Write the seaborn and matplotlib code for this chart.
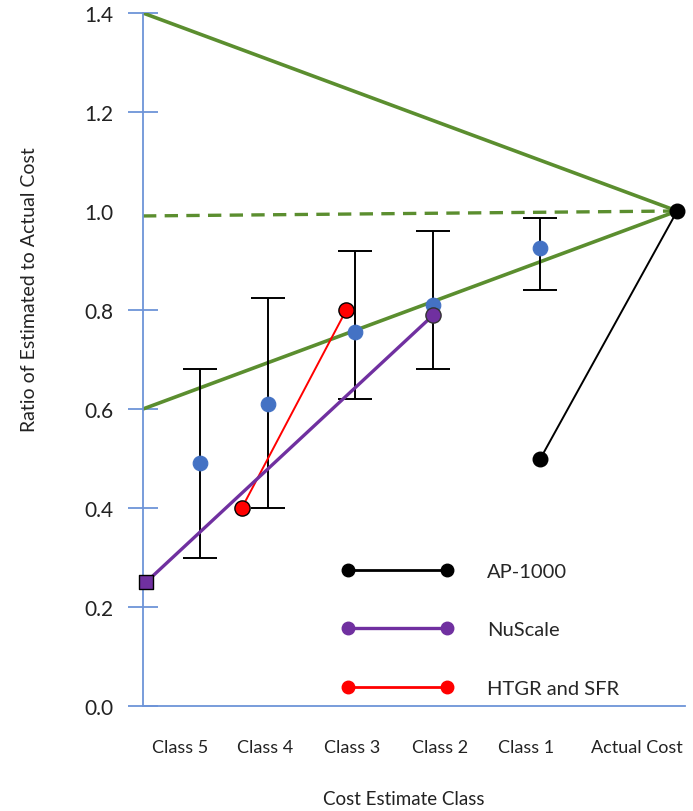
import matplotlib
matplotlib.use("Agg")
import matplotlib.pyplot as plt
from matplotlib.lines import Line2D
import pandas as pd
import seaborn as sns

# x positions are in "class units": Class 5 label = 1, spacing one class per unit
class_labels = ["Class 5", "Class 4", "Class 3", "Class 2", "Class 1", "Actual Cost"]
label_pos = [1.0, 1.98, 2.98, 3.99, 4.97, 6.25]

# blue estimate points with their ranges
est_x = [1.23, 2.01, 3.01, 3.91, 5.14]
est_mean = [0.49, 0.61, 0.755, 0.81, 0.925]
est_low = [0.30, 0.40, 0.62, 0.68, 0.84]
est_high = [0.68, 0.825, 0.92, 0.96, 0.985]

# green accuracy envelope (from y axis to actual cost)
env_x = [0.575, 6.71]
env_upper = [1.4, 1.0]
env_lower = [0.6, 1.0]
env_nominal = [0.99, 1.0]

# reactor series
ap_x = [5.14, 6.71]
ap_y = [0.50, 1.00]
nuscale_x = [0.61, 3.91]
nuscale_y = [0.25, 0.79]
htgr_x = [1.71, 2.91]
htgr_y = [0.40, 0.80]

y_ticks = [0.0, 0.2, 0.4, 0.6, 0.8, 1.0, 1.2, 1.4]

sns.set_theme(style="white")
plt.rcParams['font.family'] = ['Lato', 'DejaVu Sans']

W, H = 693, 812
fig = plt.figure(figsize=(W / 100, H / 100), dpi=100)
ax = fig.add_axes([143 / W, 1 - 707 / H, (685 - 143) / W, (707 - 14) / H])

green = "#5b8e2f"
axis_blue = "#6d94d8"
txt = "#222222"

sns.lineplot(x=env_x, y=env_upper, color=green, lw=2.6, ax=ax)
sns.lineplot(x=env_x, y=env_lower, color=green, lw=2.6, ax=ax)
sns.lineplot(x=env_x, y=env_nominal, color=green, lw=2.4, ax=ax, dashes=False,
             linestyle=(0, (4, 2.5)))

# error bars + blue means
ax.errorbar(est_x, est_mean,
            yerr=[[m - l for m, l in zip(est_mean, est_low)],
                  [h - m for m, h in zip(est_mean, est_high)]],
            fmt="none", ecolor="black", elinewidth=1.4, capsize=12, capthick=1.4, zorder=3)
est_df = pd.DataFrame({"x": est_x, "y": est_mean})
sns.scatterplot(data=est_df, x="x", y="y", color="#4472c4", s=110, edgecolor="#4472c4",
                zorder=4, ax=ax)

# reactor series
sns.lineplot(x=htgr_x, y=htgr_y, color="red", lw=1.4, ax=ax, zorder=5)
ax.scatter(htgr_x, htgr_y, s=120, color="red", edgecolor="black", linewidth=1, zorder=6)

sns.lineplot(x=nuscale_x, y=nuscale_y, color="#7030a0", lw=2.4, ax=ax, zorder=5)
ax.scatter(nuscale_x[:1], nuscale_y[:1], marker="s", s=110, color="#7030a0",
           edgecolor="black", linewidth=1, zorder=6, clip_on=False)
ax.scatter(nuscale_x[1:], nuscale_y[1:], marker="o", s=120, color="#7030a0",
           edgecolor="#333333", linewidth=1, zorder=6)

sns.lineplot(x=ap_x, y=ap_y, color="black", lw=1.4, ax=ax, zorder=5)
ax.scatter(ap_x, ap_y, s=110, color="black", zorder=6)

ax.set_xlim(0.575, 6.80)
ax.set_ylim(0, 1.4)
ax.set_yticks(y_ticks)
ax.set_yticklabels([f"{v:.1f}" for v in y_ticks])
ax.set_xticks(label_pos)
ax.set_xticklabels(class_labels)

for s in ["top", "right"]:
    ax.spines[s].set_visible(False)
for s in ["left", "bottom"]:
    ax.spines[s].set_color(axis_blue)
    ax.spines[s].set_linewidth(1.3)

ax.tick_params(axis="y", direction="inout", length=22, width=1.3, color=axis_blue,
               labelsize=15, pad=10, left=True, labelcolor=txt)
ax.tick_params(axis="x", length=0, labelsize=13, pad=24, labelcolor=txt)
ax.yaxis.get_major_ticks()[5].tick1line.set_visible(False)

ax.set_xlabel("")
ax.set_ylabel("")
fig.text(404 / W, 1 - 800 / H, "Cost Estimate Class", ha="center", va="center",
         fontsize=13.5, color=txt)
fig.text(30 / W, 1 - 290 / H, "Ratio of Estimated to Actual Cost", rotation=90,
         ha="center", va="center", fontsize=14, color=txt)

handles = [
    Line2D([0], [0], color="black", lw=2, marker="o", ms=9),
    Line2D([0], [0], color="#7030a0", lw=2.4, marker="o", ms=9),
    Line2D([0], [0], color="red", lw=2, marker="o", ms=9),
]
ax.legend(handles, ["AP-1000", "NuScale", "HTGR and SFR"], numpoints=2,
          frameon=False, fontsize=14.5, handlelength=5.5, handletextpad=1.7,
          labelspacing=2.05, borderpad=0, borderaxespad=0, loc="upper left",
          bbox_to_anchor=(342 / W, 1 - 564 / H), bbox_transform=fig.transFigure)

fig.savefig("out.png", dpi=100)
